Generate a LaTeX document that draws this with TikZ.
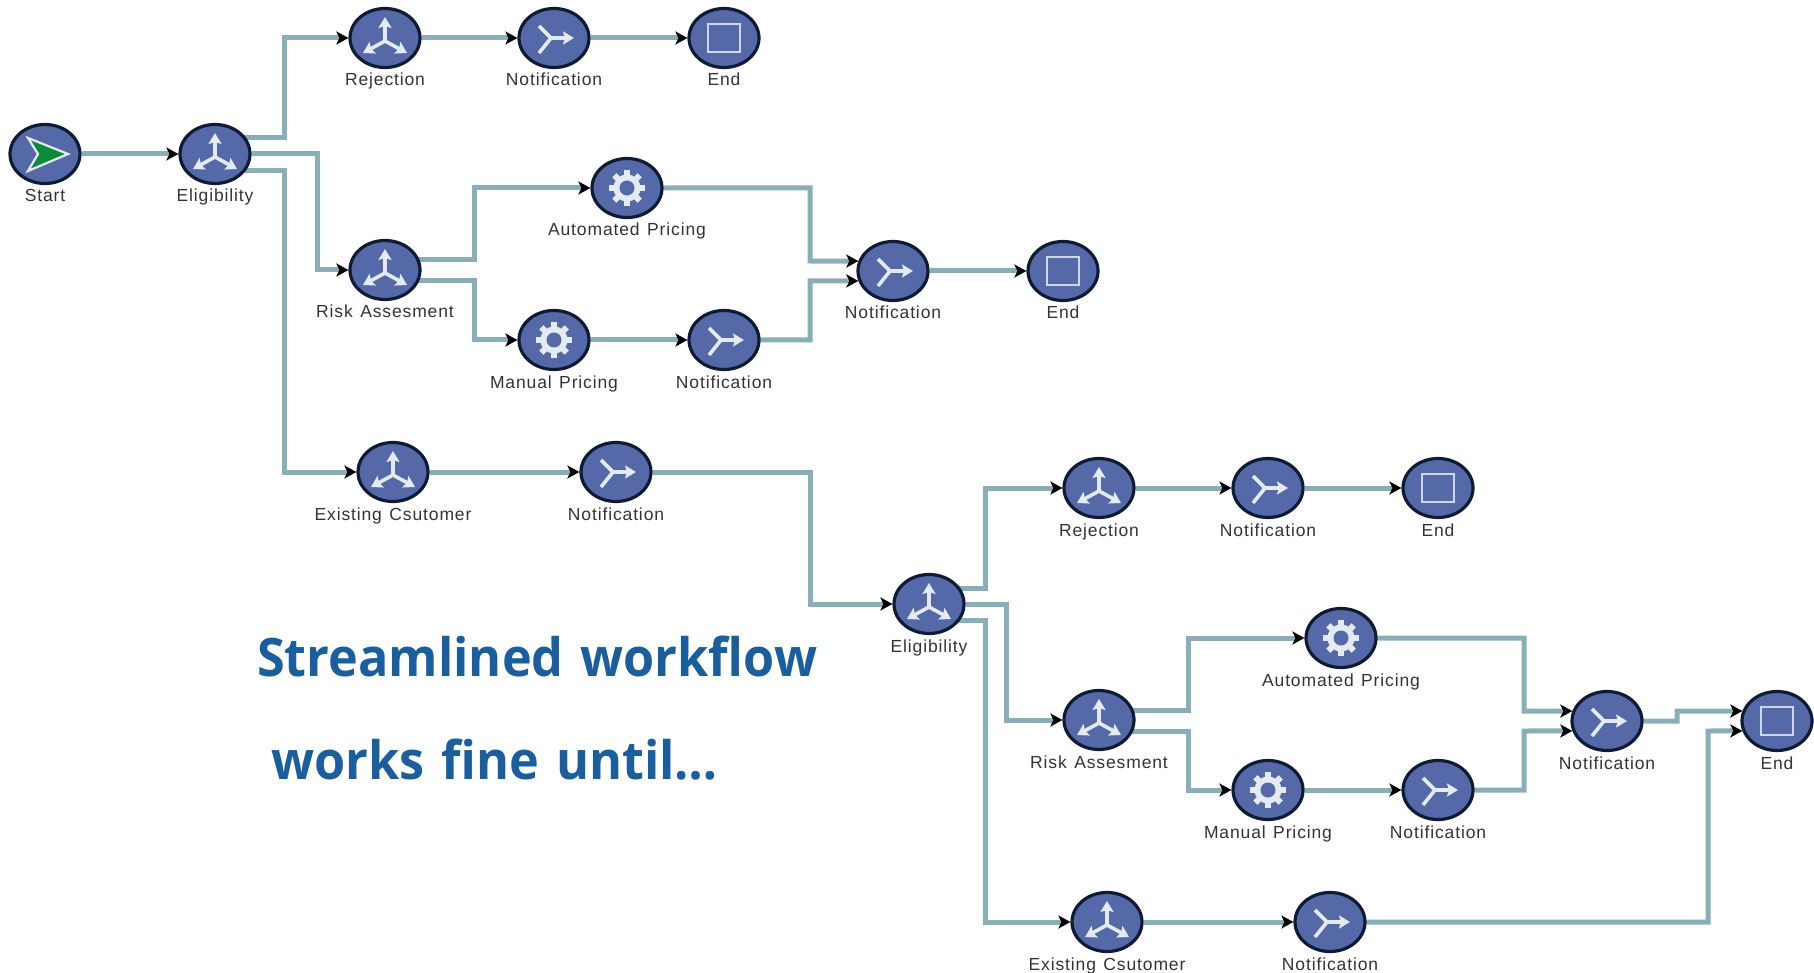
\documentclass[tikz,border=0pt]{standalone}
\usepackage{fontspec}
\setmainfont[LetterSpace=5,WordSpace=1.3]{Liberation Sans}
\newfontfamily\headfont[FakeStretch=0.95,WordSpace=1.3]{Open Sans}
\usetikzlibrary{shapes.geometric,arrows.meta,backgrounds}
\definecolor{wfline}{HTML}{8AAEB8}
\definecolor{wffill}{HTML}{5568A8}
\definecolor{wfedge}{HTML}{0E1B33}
\definecolor{wficon}{HTML}{E3EAF2}
\definecolor{wfgreen}{HTML}{0B8A3A}
\definecolor{wfhead}{HTML}{1B5E9E}
\definecolor{wftext}{HTML}{333333}
\tikzset{
  wfnode/.style={ellipse,draw=wfedge,line width=3.2pt,fill=wffill,minimum width=70pt,minimum height=59pt,inner sep=0pt},
  wflabel/.style={font=\fontsize{17.5}{17.5}\selectfont,text=wftext,inner sep=0pt,anchor=base},
  wfconn/.style={draw=wfline,line width=5pt,line join=miter},
  wfarrow/.style={wfconn,-{Stealth[length=12pt,width=13pt,inset=3pt,black]}},
  wfhdg/.style={font=\headfont\bfseries\fontsize{53}{53}\selectfont,text=wfhead,inner sep=0pt,anchor=base west},
  wficonline/.style={draw=wficon,line width=3.6pt},
  wftip/.style={-{Stealth[length=11pt,width=13pt,inset=2pt]}},
  pics/splitic/.style={code={
    \draw[wficonline,wftip] (0,3) -- (0,-21);
    \draw[wficonline,wftip] (0,3) -- (-22,15);
    \draw[wficonline,wftip] (0,3) -- (22,15);
  }},
  pics/mergeic/.style={code={
    \draw[wficonline] (-15,-12) -- (-3,0) -- (-15,15);
    \draw[wficonline,wftip] (-3,0) -- (20,0);
  }},
  pics/gearic/.style={code={
    \foreach \a in {0,45,...,315}{\draw[draw=wficon,line width=6pt] (0,0) -- (\a:18);}
    \fill[wficon] (0,0) circle (13.5);
    \fill[wffill] (0,0) circle (7.5);
  }},
  pics/endic/.style={code={
    \draw[draw=wficon!85!wffill,line width=2pt,fill=wffill] (-16,-14) rectangle (16,14);
  }},
  pics/startic/.style={code={
    \draw[draw=wficon,line width=2.2pt,fill=wfgreen,line join=miter] (-17,-16) -- (23,0) -- (-17,17) -- (-7,0) -- cycle;
  }},
}
\newcommand{\wfn}[5]{%
  \node[wfnode] (#1) at (#2,#3) {};
  \pic at (#1) {#4};
  \node[wflabel] (#1-l) at (#2,#3+48) {#5};
}
\begin{document}
\begin{tikzpicture}[x=1pt,y=-1pt]
\useasboundingbox (0,0) rectangle (1814,973);
% upper group
\wfn{st}{45}{154}{startic}{Start}
\wfn{ea}{215}{154}{splitic}{Eligibility}
\wfn{ra}{385}{38}{splitic}{Rejection}
\wfn{na}{554}{38}{mergeic}{Notification}
\wfn{za}{724}{38}{endic}{End}
\wfn{ka}{385}{270}{splitic}{Risk Assesment}
\wfn{aa}{627}{188}{gearic}{Automated Pricing}
\wfn{ma}{554}{340}{gearic}{Manual Pricing}
\wfn{nb}{724}{340}{mergeic}{Notification}
\wfn{nc}{893}{271}{mergeic}{Notification}
\wfn{zb}{1063}{271}{endic}{End}
\wfn{xa}{393}{472}{splitic}{Existing Csutomer}
\wfn{nd}{616}{472}{mergeic}{Notification}
% lower group
\wfn{eb}{929}{604}{splitic}{Eligibility}
\wfn{rb}{1099}{488}{splitic}{Rejection}
\wfn{ne}{1268}{488}{mergeic}{Notification}
\wfn{zc}{1438}{488}{endic}{End}
\wfn{kb}{1099}{720}{splitic}{Risk Assesment}
\wfn{ab}{1341}{638}{gearic}{Automated Pricing}
\wfn{mb}{1268}{790}{gearic}{Manual Pricing}
\wfn{nf}{1438}{790}{mergeic}{Notification}
\wfn{ng}{1607}{721}{mergeic}{Notification}
\wfn{zd}{1777}{721}{endic}{End}
\wfn{xb}{1107}{922}{splitic}{Existing Csutomer}
\wfn{nh}{1330}{922}{mergeic}{Notification}
% headings
\node[wfhdg] (h1) at (257,676) {Streamlined workflow};
\node[wfhdg] (h2) at (271,779) {works fine until…};
% bend columns
\coordinate (c1) at (284,0);
\coordinate (c2) at (317,0);
\coordinate (c3) at (474,0);
\coordinate (c4) at (810,0);
\coordinate (c5) at (985,0);
\coordinate (c6) at (1006,0);
\coordinate (c7) at (1188,0);
\coordinate (c8) at (1524,0);
\coordinate (c9) at (1677,0);
\coordinate (c10) at (1708,0);
\begin{scope}[on background layer]
\draw[wfarrow] (st) -- (ea);
\draw[wfarrow] ([yshift=16pt]ea.center) -| (c1 |- ra.west) -- (ra);
\draw[wfarrow] (ra) -- (na);
\draw[wfarrow] (na) -- (za);
\draw[wfarrow] (ea) -| (c2 |- ka.west) -- (ka);
\draw[wfarrow] ([yshift=-17pt]ea.center) -| (c1 |- xa.west) -- (xa);
\draw[wfarrow] ([yshift=10pt]ka.center) -| (c3 |- aa.west) -- (aa);
\draw[wfarrow] ([yshift=-11pt]ka.center) -| (c3 |- ma.west) -- (ma);
\draw[wfarrow] (ma) -- (nb);
\draw[wfarrow] (aa) -| ([yshift=10pt]c4 |- nc.center) -- (nc.164);
\draw[wfarrow] (nb) -| ([yshift=-10pt]c4 |- nc.center) -- (nc.196);
\draw[wfarrow] (nc) -- (zb);
\draw[wfarrow] (xa) -- (nd);
\draw[wfarrow] (nd) -| (c4 |- eb.west) -- (eb);
\draw[wfarrow] ([yshift=16pt]eb.center) -| (c5 |- rb.west) -- (rb);
\draw[wfarrow] (rb) -- (ne);
\draw[wfarrow] (ne) -- (zc);
\draw[wfarrow] (eb) -| (c6 |- kb.west) -- (kb);
\draw[wfarrow] ([yshift=-16pt]eb.center) -| (c5 |- xb.west) -- (xb);
\draw[wfarrow] ([yshift=10pt]kb.center) -| (c7 |- ab.west) -- (ab);
\draw[wfarrow] ([yshift=-11pt]kb.center) -| (c7 |- mb.west) -- (mb);
\draw[wfarrow] (mb) -- (nf);
\draw[wfarrow] (ab) -| ([yshift=10pt]c8 |- ng.center) -- (ng.164);
\draw[wfarrow] (nf) -| ([yshift=-10pt]c8 |- ng.center) -- (ng.196);
\draw[wfarrow] (ng) -| ([yshift=10pt]c9 |- zd.center) -- (zd.164);
\draw[wfarrow] (xb) -- (nh);
\draw[wfarrow] (nh) -| ([yshift=-10pt]c10 |- zd.center) -- (zd.196);
\end{scope}
\end{tikzpicture}
\end{document}
